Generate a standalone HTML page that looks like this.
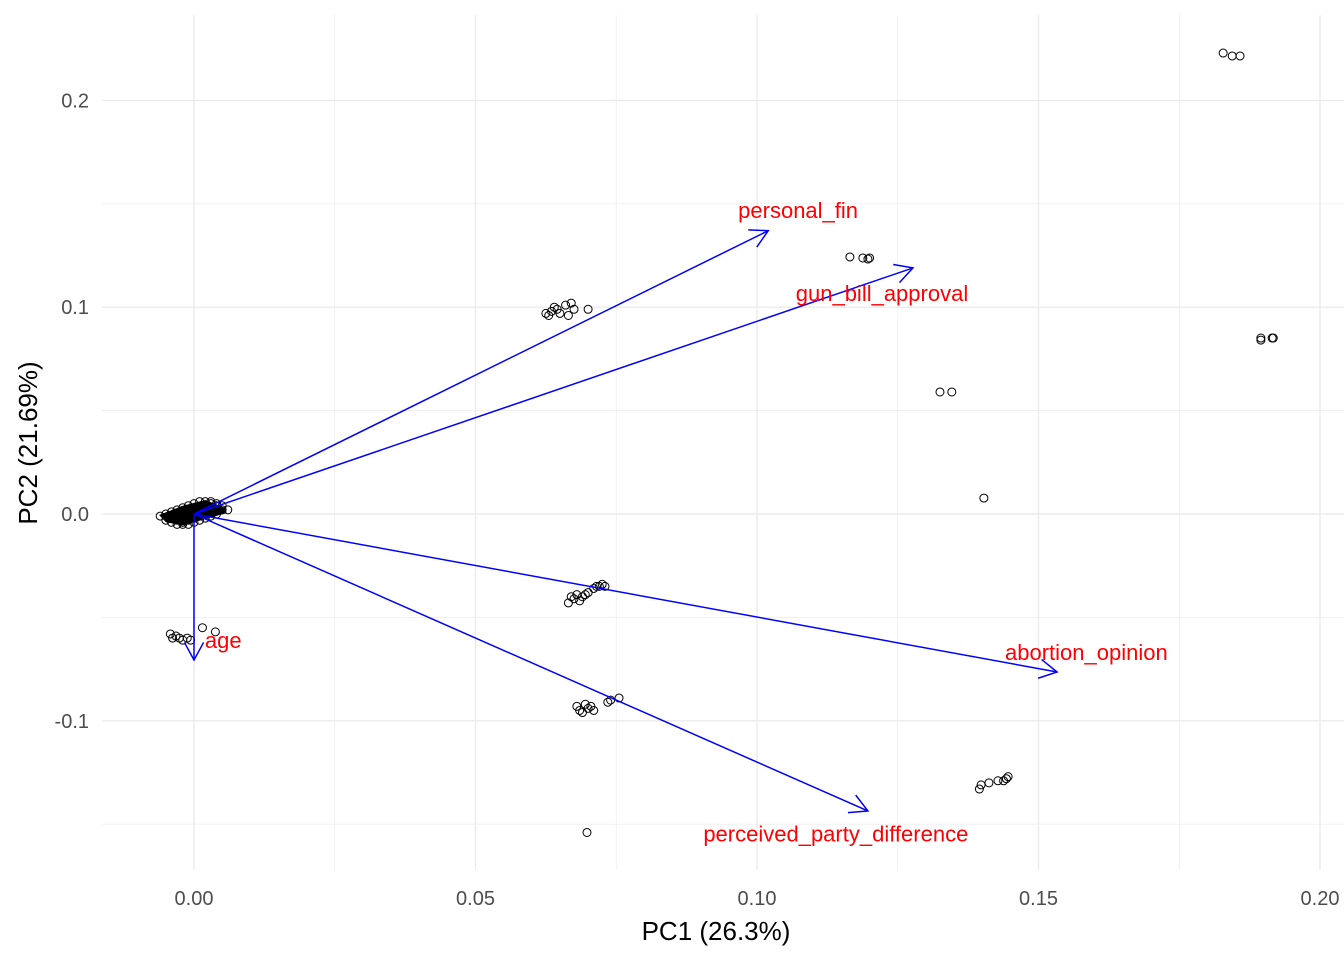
<!DOCTYPE html>
<html><head><meta charset="utf-8"><style>
body{margin:0;background:#fff}
svg{display:block;font-family:"Liberation Sans",sans-serif}
</style></head><body>
<svg id="c" width="1344" height="960"></svg>
<script>
const pc1=[-0.006,-0.005,-0.004,-0.003,-0.002,-0.001,0.000,0.001,0.002,0.003,
-0.005,-0.004,-0.003,-0.002,-0.001,0.000,0.001,0.002,0.003,0.004,
-0.004,-0.003,-0.002,-0.001,0.000,0.001,0.002,0.003,0.004,0.005,
-0.003,-0.002,-0.001,0.000,0.001,0.002,0.003,0.004,0.005,0.006,
-0.002,-0.001,0.000,0.001,0.002,0.003,0.004,
0.0625,0.063,0.0635,0.064,0.0645,0.065,0.066,0.0665,0.067,0.0675,0.070,
0.1165,0.1188,0.1197,0.1200,
0.1325,0.1346,0.1403,
0.1828,0.1844,0.1858,
0.1895,0.1895,0.1915,0.1917,
0.0665,0.067,0.0675,0.068,0.0685,0.069,0.0695,0.070,0.071,0.0715,0.072,0.0725,0.073,
0.068,0.0685,0.069,0.0695,0.070,0.0705,0.071,0.0735,0.074,0.0755,
0.0698,
0.1395,0.1398,0.1412,0.1428,0.1438,0.1443,0.1446,
-0.0042,-0.0038,-0.0032,-0.0026,-0.0020,-0.0012,-0.0006,0.0015,0.0038];
const pc2=[-0.001,0.000,0.001,0.002,0.003,0.004,0.005,0.006,0.006,0.006,
-0.003,-0.002,-0.001,0.000,0.001,0.002,0.003,0.004,0.005,0.005,
-0.004,-0.003,-0.002,-0.001,0.000,0.001,0.002,0.003,0.004,0.004,
-0.005,-0.004,-0.003,-0.002,-0.001,0.000,0.001,0.002,0.002,0.002,
-0.005,-0.005,-0.004,-0.003,-0.002,-0.001,0.000,
0.097,0.096,0.098,0.100,0.099,0.097,0.101,0.096,0.102,0.099,0.099,
0.1243,0.1238,0.1233,0.1238,
0.0590,0.0590,0.0077,
0.2229,0.2215,0.2215,
0.0851,0.0841,0.0851,0.0851,
-0.043,-0.040,-0.041,-0.039,-0.042,-0.040,-0.039,-0.038,-0.036,-0.035,-0.035,-0.034,-0.035,
-0.093,-0.095,-0.096,-0.092,-0.094,-0.093,-0.095,-0.091,-0.090,-0.089,
-0.154,
-0.133,-0.131,-0.130,-0.129,-0.129,-0.128,-0.127,
-0.058,-0.060,-0.059,-0.060,-0.061,-0.060,-0.061,-0.055,-0.057];
const varNames=["personal_fin","gun_bill_approval","abortion_opinion","perceived_party_difference","age"];
const loadX=[0.102,0.1277,0.1533,0.1197,0.0];
const loadY=[0.137,0.119,-0.0764,-0.1436,-0.0706];
const labelX=[0.1073,0.1222,0.1585,0.1140,0.0052];
const labelY=[0.1465,0.1065,-0.0672,-0.1549,-0.0614];
const xTicks=[0,0.05,0.10,0.15,0.20];
const xTickLabels=["0.00","0.05","0.10","0.15","0.20"];
const yTicks=[-0.1,0,0.1,0.2];
const yTickLabels=["-0.1","0.0","0.1","0.2"];

const NS="http://www.w3.org/2000/svg";
const svg=document.getElementById('c');
const X=v=>194+v*5630;
const Y=v=>514-v*2068;
const L={x0:102,x1:1344,y0:15,y1:870};
function mk(t,a,p){const e=document.createElementNS(NS,t);for(const k in a)e.setAttribute(k,a[k]);(p||svg).appendChild(e);return e;}
const grid=mk('g',{});


for(let v=-0.0;v<=0.2251;v+=0.025){const major=xTicks.some(t=>Math.abs(t-v)<1e-9);
 mk('line',{x1:X(v),x2:X(v),y1:L.y0,y2:L.y1,stroke:'#ebebeb','stroke-width':major?1.4:0.7},grid);}
for(let v=-0.15;v<=0.2251;v+=0.05){const major=yTicks.some(t=>Math.abs(t-v)<1e-9);
 mk('line',{y1:Y(v),y2:Y(v),x1:L.x0,x2:L.x1,stroke:'#ebebeb','stroke-width':major?1.4:0.7},grid);}
xTicks.forEach((t,i)=>{const e=mk('text',{x:X(t),y:905,'text-anchor':'middle','font-size':20,fill:'#4d4d4d'});e.textContent=xTickLabels[i];

});
yTicks.forEach((t,i)=>{const e=mk('text',{x:89,y:Y(t)+7,'text-anchor':'end','font-size':20,fill:'#4d4d4d'});e.textContent=yTickLabels[i];

});
let e=mk('text',{x:716,y:940,'text-anchor':'middle','font-size':26,fill:'#000'});e.textContent='PC1 (26.3%)';


e=mk('text',{x:37,y:443,'text-anchor':'middle','font-size':26,fill:'#000',transform:'rotate(-90 37 443)'});e.textContent='PC2 (21.69%)';


const pts=mk('g',{});


const blob=mk('polygon',{points:`${X(-0.0062)},${Y(-0.0005)} ${X(-0.005)},${Y(-0.004)} ${X(-0.002)},${Y(-0.0055)} ${X(0.0058)},${Y(0.0005)} ${X(0.0055)},${Y(0.003)} ${X(0.002)},${Y(0.0068)} ${X(-0.002)},${Y(0.004)}`,fill:'#000'},pts);


pc1.forEach((v,i)=>{const c=mk('circle',{cx:X(v),cy:Y(pc2[i]),r:4,fill:'none',stroke:'#000','stroke-width':1},pts);

});
const arr=mk('g',{});


varNames.forEach((n,i)=>{const x2=X(loadX[i]),y2=Y(loadY[i]),x1=X(0),y1=Y(0);
 const a=Math.atan2(y2-y1,x2-x1),h=20,s=0.5;
 const l=mk('line',{x1,y1,x2,y2,stroke:'#0000ff','stroke-width':1.5},arr);
 
 
 mk('polyline',{points:`${x2-h*Math.cos(a-s)},${y2-h*Math.sin(a-s)} ${x2},${y2} ${x2-h*Math.cos(a+s)},${y2-h*Math.sin(a+s)}`,fill:'none',stroke:'#0000ff','stroke-width':1.5},arr);
 const t=mk('text',{x:X(labelX[i]),y:Y(labelY[i])+7,'text-anchor':'middle','font-size':22,fill:'#ff0000'});
 t.textContent=n;
 
 
});
</script>
</body></html>
